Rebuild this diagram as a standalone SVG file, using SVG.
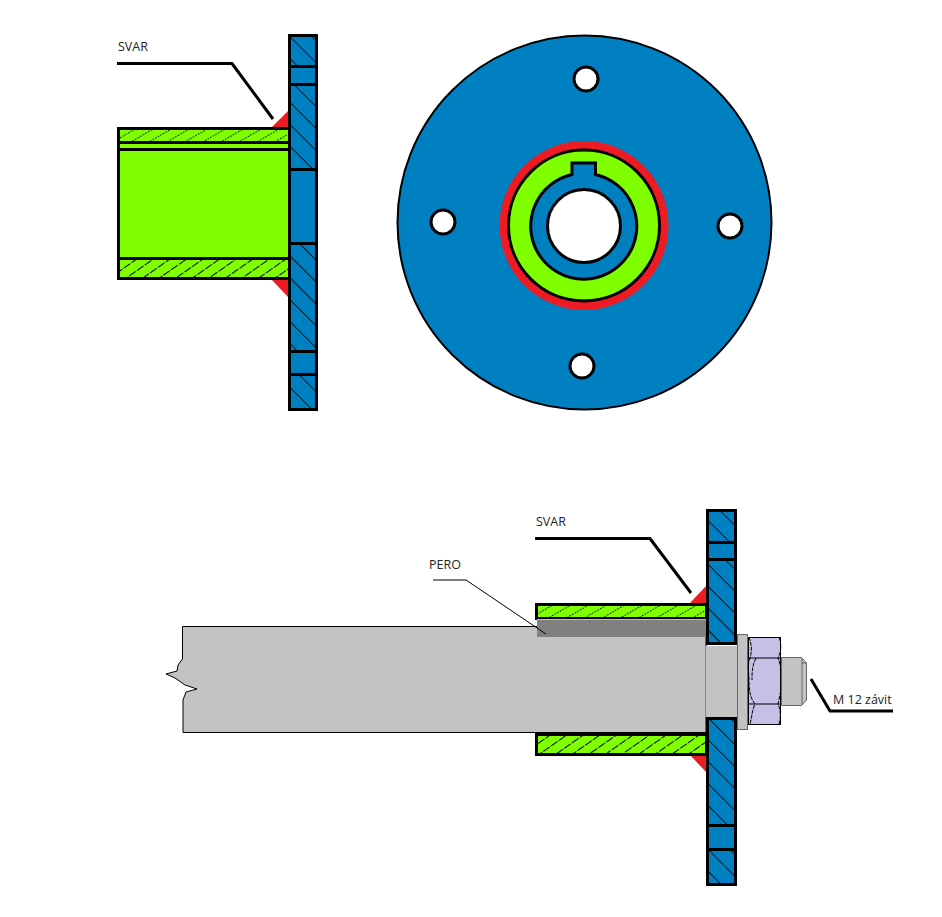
<svg xmlns="http://www.w3.org/2000/svg" width="942" height="917" viewBox="0 0 942 917">
<style>
.bl{fill:#007fc1}.gr{fill:#80ff00}.rd{fill:#ed1c24}
.o{fill:none;stroke:#000;stroke-width:3}
.ln{fill:none;stroke:#000;stroke-width:3}
.th{fill:none;stroke:#000;stroke-width:1}
.d{fill:none;stroke:#000;stroke-width:1;stroke-dasharray:4 1}
.hp{fill:url(#hatchPlate)}.hh{fill:url(#hatchHub)}.hu{fill:url(#hatchHubTop)}
.sh{fill:#c3c3c3;stroke:#000;stroke-width:1}
.st{fill:#c3c3c3;stroke:#666;stroke-width:1}
text{font-family:"Open Sans","Noto Sans",sans-serif;font-size:12.500px;fill:#222}
.hole{fill:#fff;stroke:#000;stroke-width:3}
</style>
<defs>
<pattern id="hatchPlate" width="15.5" height="15.5" patternUnits="userSpaceOnUse" patternTransform="translate(290 36) rotate(45)">
<line x1="0" y1="0.5" x2="15.5" y2="0.5" stroke="#000" stroke-width="0.8"/></pattern>
<pattern id="hatchHub" width="9.5" height="9.5" patternUnits="userSpaceOnUse" patternTransform="translate(118 260) rotate(-35)">
<line x1="0" y1="0.5" x2="9.5" y2="0.5" stroke="#000" stroke-width="1" stroke-dasharray="8 1.500"/></pattern>
<pattern id="hatchHubTop" width="9" height="9" patternUnits="userSpaceOnUse" patternTransform="translate(118 128) rotate(-30)">
<line x1="0" y1="0.5" x2="9" y2="0.5" stroke="#000" stroke-width="1" stroke-dasharray="1.500 1.500"/></pattern>
</defs>

<g id="top-side-view">
<polygon class="rd" points="272,127 288,111 288,127"/>
<polygon class="rd" points="272,280 288,297 288,280"/>
<rect class="gr" x="118.500" y="128.500" width="171" height="150"/>
<rect class="hu" x="120" y="130" width="168" height="11"/>
<rect class="hh" x="120" y="260" width="168" height="17"/>
<rect class="o" x="118.500" y="128.500" width="171" height="150"/>
<path class="ln" d="M118 142.500H289M118 149.500H289M118 258.500H289"/>
<rect class="bl" x="289.500" y="35.500" width="27" height="374"/>
<rect class="hp" x="291" y="37" width="24" height="29"/>
<rect class="hp" x="291" y="85" width="24" height="83"/>
<rect class="hp" x="291" y="245" width="24" height="105"/>
<rect class="hp" x="291" y="376" width="24" height="33"/>
<rect class="o" x="289.500" y="35.500" width="27" height="374"/>
<path class="ln" d="M289 66.500H317M289 84.500H317M289 169.500H317M289 243.500H317M289 351.500H317M289 374.500H317"/>
</g>

<g id="front-view">
<circle class="bl" cx="584.500" cy="222.500" r="187" stroke="#000" stroke-width="2"/>
<circle class="hole" cx="586" cy="79" r="12"/>
<circle class="hole" cx="443" cy="222" r="12"/>
<circle class="hole" cx="730" cy="226" r="12"/>
<circle class="hole" cx="582" cy="366" r="12"/>
<circle class="rd" cx="584" cy="225.500" r="84.500"/>
<circle class="gr" cx="584" cy="225.500" r="75.500" stroke="#000" stroke-width="3"/>
<path class="bl" stroke="#000" stroke-width="3" stroke-linejoin="miter" d="M572 174.500V163H595.500V174.500A53 53 0 1 1 572 174.500Z"/>
<circle class="hole" cx="584" cy="226" r="36.500"/>
</g>

<g id="bottom-section">
<polygon class="rd" points="690,603 706,586 706,603"/>
<polygon class="rd" points="690,755 706,772 706,755"/>
<rect class="gr" x="536.500" y="604.500" width="170" height="14"/>
<rect class="hu" x="538" y="606" width="168" height="11"/>
<rect class="o" x="536.500" y="604.500" width="170" height="14"/>
<rect class="gr" x="536.500" y="734.500" width="170" height="20"/>
<rect class="hh" x="538" y="736" width="168" height="17"/>
<rect class="o" x="536.500" y="734.500" width="170" height="20"/>
<path class="sh" d="M706 626.500H182.500V659L178 665L177 671L166 674L175 678L185 685L197 689L186 692L183 700V732.500H706Z"/>
<rect x="537" y="620" width="169" height="17" fill="#808080"/>
<line x1="537" y1="619.500" x2="706" y2="619.500" stroke="#80ff00"/>
<rect class="bl" x="707.500" y="510.500" width="28" height="133"/>
<rect class="hp" x="709" y="512" width="25" height="29"/>
<rect class="hp" x="709" y="561" width="25" height="81"/>
<rect class="o" x="707.500" y="510.500" width="28" height="133"/>
<path class="ln" d="M707 542.500H736M707 559.500H736"/>
<rect class="bl" x="707.500" y="718.500" width="28" height="166"/>
<rect class="hp" x="709" y="720" width="25" height="104"/>
<rect class="hp" x="709" y="851" width="25" height="32"/>
<rect class="o" x="707.500" y="718.500" width="28" height="166"/>
<path class="ln" d="M707 825.500H736M707 849.500H736"/>
</g>

<g id="bolt">
<rect x="705" y="646" width="32" height="71" fill="#c3c3c3"/>
<line x1="705.500" y1="646" x2="705.500" y2="717" stroke="#888"/>
<rect class="st" x="737.500" y="634.500" width="10" height="95"/>
<rect x="748.500" y="637.500" width="32" height="87" fill="#c8bfe7" stroke="#000"/>
<path class="th" d="M749 658H781M749 704H781"/>
<path class="d" d="M749 637C752 645 752 652 750 658C747 665 749 672 749 680C749 690 750 698 755 704C752 710 752 717 750 724M779 637C782 645 781 652 778 658C781 665 782 675 781 685C781 693 779 699 778 704C781 710 781 718 779 724M756 658C752 666 752 672 752 680"/>
<path class="st" d="M781.500 657.500H801.500L806.500 663V700L801.500 705.500H781.500Z"/>
<path class="st" d="M802 658V705M802 663H807"/>
</g>

<g id="connectors">
<path class="ln" d="M117 63.500H232L273 119"/>
<path class="ln" d="M535 538.500H650L691 593"/>
<path class="ln" d="M811 679L830 711H893"/>
<path class="th" d="M433 580H448M448 580H466L546 634"/>
</g>

<g id="labels">
<text x="118" y="51">SVAR</text>
<text x="536" y="526">SVAR</text>
<text x="429" y="569">PERO</text>
<text x="833" y="704">M 12 závit</text>
</g>
</svg>
